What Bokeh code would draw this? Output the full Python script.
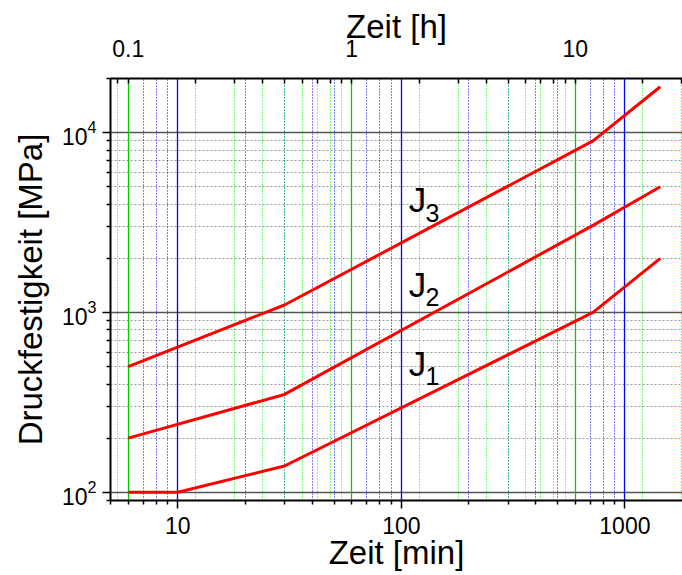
from bokeh.plotting import figure
from bokeh.models import (LogAxis, Range1d, LogScale, FixedTicker, Grid,
                          NumeralTickFormatter)
from bokeh.core.properties import value
from bokeh.embed import file_html
from bokeh.resources import INLINE

# ---- data ----
j1_time = [6, 10, 30, 720, 1440]
j1_strength = [100, 100, 140, 1000, 2000]
j2_time = [6, 30, 720, 1440]
j2_strength = [200, 350, 3050, 5000]
j3_time = [6, 30, 720, 1440]
j3_strength = [500, 1100, 9000, 18000]

label_text = ["J", "J", "J"]
label_sub = ["1", "2", "3"]
label_time = [118, 118, 118]
label_strength = [521, 1431, 4246]

# ---- ticks ----
x_min, x_max = 5, 1810
y_min, y_max = 90, 20000
min_major = [10, 100, 1000]
min_minor = [5, 6, 7, 8, 9, 20, 30, 40, 50, 60, 70, 80, 90,
             200, 300, 400, 500, 600, 700, 800, 900]
hour_major = [0.1, 1, 10]
hour_minor = [0.09, 0.2, 0.3, 0.4, 0.5, 0.6, 0.7, 0.8, 0.9,
              2, 3, 4, 5, 6, 7, 8, 9, 20, 30]
y_major = [100, 1000, 10000]
y_minor = [90, 200, 300, 400, 500, 600, 700, 800, 900,
           2000, 3000, 4000, 5000, 6000, 7000, 8000, 9000, 20000]

FONT = "Liberation Sans"

p = figure(x_axis_type="log", y_axis_type="log",
           x_range=Range1d(x_min, x_max), y_range=Range1d(y_min, y_max),
           width=682, height=575,
           min_border_left=110, min_border_right=0,
           min_border_top=78, min_border_bottom=75,
           output_backend="svg", toolbar_location=None,
           background_fill_color="white", border_fill_color="white")
p.outline_line_color = None
p.xgrid.visible = False
p.ygrid.visible = False

# bottom axis
xa = p.xaxis[0]
xa.ticker = FixedTicker(ticks=min_major, minor_ticks=min_minor)
xa.formatter = NumeralTickFormatter(format="0")
xa.axis_label = "Zeit [min]"

# left axis
ya = p.yaxis[0]
ya.ticker = FixedTicker(ticks=y_major, minor_ticks=y_minor)
ya.axis_label = "Druckfestigkeit [MPa]"

# top axis in hours
p.extra_x_ranges = {"hours": Range1d(x_min / 60, x_max / 60)}
p.extra_x_scales = {"hours": LogScale()}
ta = LogAxis(x_range_name="hours",
             ticker=FixedTicker(ticks=hour_major, minor_ticks=hour_minor),
             formatter=NumeralTickFormatter(format="0.[0]"),
             axis_label="Zeit [h]")
p.add_layout(ta, "above")

for ax in [xa, ya, ta]:
    ax.axis_line_color = "black"
    ax.axis_line_width = 2
    ax.major_tick_line_color = "black"
    ax.minor_tick_line_color = "black"
    ax.major_tick_line_width = 1.5
    ax.minor_tick_line_width = 1.5
    ax.major_label_text_font = FONT
    ax.major_label_text_font_size = "23px"
    ax.major_label_text_color = "black"
    ax.axis_label_text_font = FONT
    ax.axis_label_text_font_size = "33px"
    ax.axis_label_text_font_style = "normal"
    ax.axis_label_text_color = "black"

xa.major_tick_in = 0
xa.major_tick_out = 8
xa.minor_tick_in = 0
xa.minor_tick_out = 4
xa.major_label_standoff = 8
xa.axis_label_standoff = -3

ya.major_tick_in = 0
ya.major_tick_out = 8
ya.minor_tick_in = 0
ya.minor_tick_out = 4
ya.major_label_standoff = 6
ya.axis_label_standoff = 10

ta.major_tick_in = 5
ta.major_tick_out = 0
ta.minor_tick_in = 5
ta.minor_tick_out = 0
ta.major_label_standoff = 22
ta.axis_label_standoff = -8

# grids
y_grid = Grid(dimension=1, ticker=FixedTicker(ticks=y_major, minor_ticks=y_minor),
              grid_line_color="#555555", grid_line_width=1.5,
              minor_grid_line_color="#999999", minor_grid_line_dash="2 2",
              minor_grid_line_width=1)
blue_grid = Grid(dimension=0, ticker=FixedTicker(ticks=min_major, minor_ticks=min_minor),
                 grid_line_color="#0000ff", grid_line_width=1.3,
                 minor_grid_line_color="#0000ff", minor_grid_line_dash="1 2",
                 minor_grid_line_width=1)
green_major = [h * 60 for h in hour_major]
green_minor = [h * 60 for h in hour_minor]
green_grid = Grid(dimension=0, ticker=FixedTicker(ticks=green_major, minor_ticks=green_minor),
                  grid_line_color="#00cc00", grid_line_width=1.3,
                  minor_grid_line_color="#00ee00", minor_grid_line_dash="1 2",
                  minor_grid_line_width=1)
p.add_layout(y_grid)
p.add_layout(blue_grid)
p.add_layout(green_grid)

# data lines
for t, s in [(j1_time, j1_strength), (j2_time, j2_strength), (j3_time, j3_strength)]:
    p.line(t, s, line_color="#ff0000", line_width=3)

# labels J with subscript
p.text(x=label_time, y=label_strength, text=label_text,
       text_font=value(FONT), text_font_size="35px", text_color="black",
       text_align="center", text_baseline="alphabetic")
p.text(x=label_time, y=label_strength, text=label_sub,
       text_font=value(FONT), text_font_size="25px", text_color="black",
       text_align="center", text_baseline="alphabetic",
       x_offset=15, y_offset=13)

open("out.html", "w").write(file_html(p, INLINE))
